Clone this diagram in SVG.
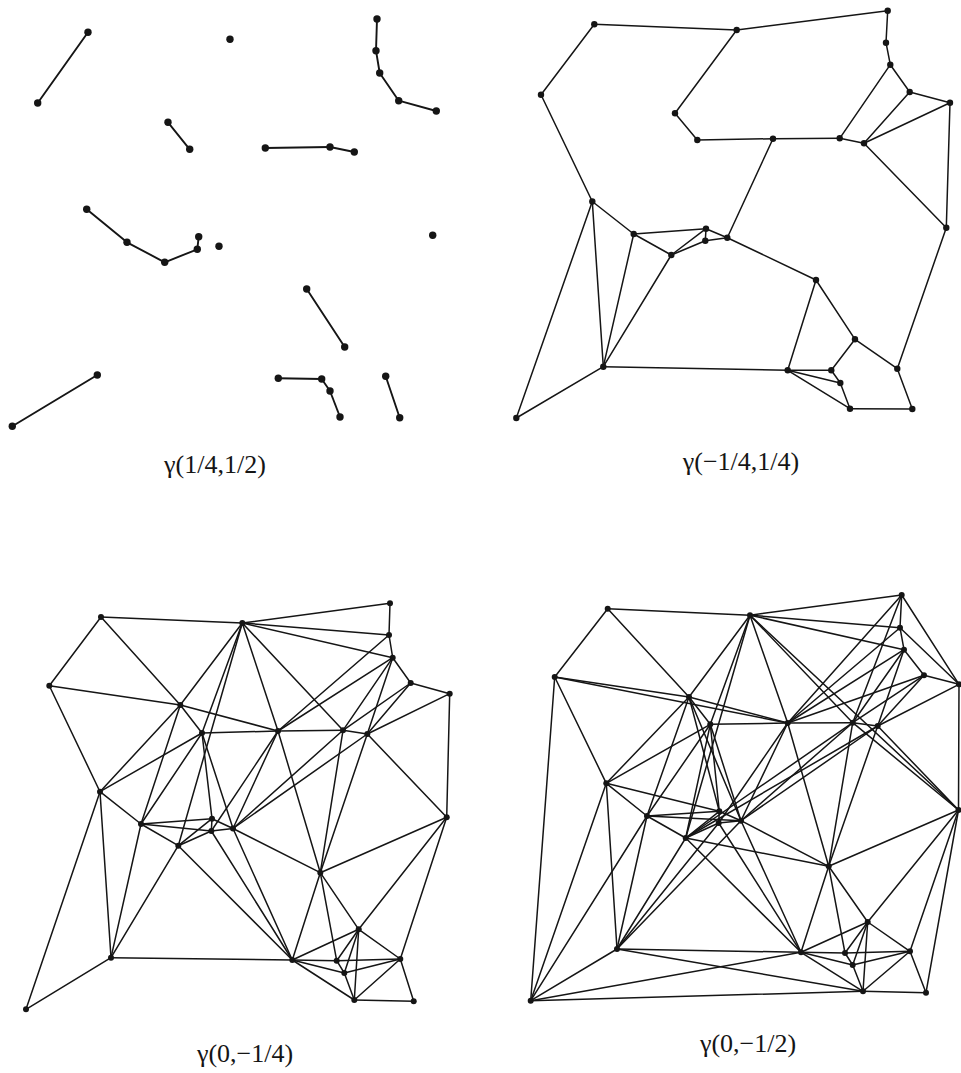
<svg xmlns="http://www.w3.org/2000/svg" width="961" height="1073" viewBox="0 0 961 1073">
<style>
.e line{stroke:#151515;stroke-width:1.5;stroke-linecap:round}
.t line{stroke-width:1.9}
.n circle{fill:#151515}
text{font-family:"Liberation Serif","Times New Roman",serif;font-size:26px;fill:#151515;text-anchor:middle}
</style>
<rect width="961" height="1073" fill="#fff"/>
<!-- Panel 1: gamma(1/4,1/2) -->
<g id="p1-edges" class="e t">
<line x1="88" y1="32.3" x2="37.7" y2="103"/>
<line x1="377" y1="19" x2="376" y2="50.7"/>
<line x1="376" y1="50.7" x2="379.7" y2="73"/>
<line x1="379.7" y1="73" x2="398.7" y2="100.7"/>
<line x1="398.7" y1="100.7" x2="436.3" y2="111"/>
<line x1="168" y1="122.3" x2="189.7" y2="149.3"/>
<line x1="265.3" y1="148" x2="330" y2="147"/>
<line x1="330" y1="147" x2="354.3" y2="152"/>
<line x1="86.7" y1="209.3" x2="127" y2="242.3"/>
<line x1="127" y1="242.3" x2="164.7" y2="262.3"/>
<line x1="164.7" y1="262.3" x2="197.3" y2="249.3"/>
<line x1="197.3" y1="249.3" x2="198.7" y2="236.7"/>
<line x1="306.7" y1="289" x2="344.7" y2="347"/>
<line x1="97.3" y1="375" x2="12.3" y2="426.3"/>
<line x1="278.3" y1="378.3" x2="321.7" y2="379"/>
<line x1="321.7" y1="379" x2="330" y2="391"/>
<line x1="330" y1="391" x2="340" y2="417"/>
<line x1="385.7" y1="376.3" x2="399.7" y2="417.7"/>
</g>
<g class="n">
<g id="p1-A"><circle cx="88" cy="32.3" r="3.7"/></g>
<g id="p1-B"><circle cx="230" cy="39.3" r="3.7"/></g>
<g id="p1-C"><circle cx="377" cy="19" r="3.7"/></g>
<g id="p1-D"><circle cx="376" cy="50.7" r="3.7"/></g>
<g id="p1-E"><circle cx="379.7" cy="73" r="3.7"/></g>
<g id="p1-F"><circle cx="398.7" cy="100.7" r="3.7"/></g>
<g id="p1-G"><circle cx="436.3" cy="111" r="3.7"/></g>
<g id="p1-H"><circle cx="37.7" cy="103" r="3.7"/></g>
<g id="p1-I"><circle cx="168" cy="122.3" r="3.7"/></g>
<g id="p1-J"><circle cx="189.7" cy="149.3" r="3.7"/></g>
<g id="p1-K"><circle cx="265.3" cy="148" r="3.7"/></g>
<g id="p1-L"><circle cx="330" cy="147" r="3.7"/></g>
<g id="p1-M"><circle cx="354.3" cy="152" r="3.7"/></g>
<g id="p1-N"><circle cx="86.7" cy="209.3" r="3.7"/></g>
<g id="p1-O"><circle cx="127" cy="242.3" r="3.7"/></g>
<g id="p1-P"><circle cx="198.7" cy="236.7" r="3.7"/></g>
<g id="p1-Q"><circle cx="197.3" cy="249.3" r="3.7"/></g>
<g id="p1-R"><circle cx="219" cy="246.3" r="3.7"/></g>
<g id="p1-S"><circle cx="164.7" cy="262.3" r="3.7"/></g>
<g id="p1-T"><circle cx="432.7" cy="235.3" r="3.7"/></g>
<g id="p1-U"><circle cx="306.7" cy="289" r="3.7"/></g>
<g id="p1-V"><circle cx="344.7" cy="347" r="3.7"/></g>
<g id="p1-W"><circle cx="385.7" cy="376.3" r="3.7"/></g>
<g id="p1-X"><circle cx="97.3" cy="375" r="3.7"/></g>
<g id="p1-Y"><circle cx="278.3" cy="378.3" r="3.7"/></g>
<g id="p1-Z"><circle cx="321.7" cy="379" r="3.7"/></g>
<g id="p1-a"><circle cx="330" cy="391" r="3.7"/></g>
<g id="p1-b"><circle cx="340" cy="417" r="3.7"/></g>
<g id="p1-c"><circle cx="399.7" cy="417.7" r="3.7"/></g>
<g id="p1-d"><circle cx="12.3" cy="426.3" r="3.7"/></g>
</g>
<text id="label1" x="215" y="473">γ(1/4,1/2)</text>

<!-- Panel 2: gamma(-1/4,1/4) -->
<g id="p2-edges" class="e">
<line x1="594.3" y1="24.3" x2="736.7" y2="30"/>
<line x1="736.7" y1="30" x2="887.7" y2="10.7"/>
<line x1="594.3" y1="24.3" x2="541" y2="94.7"/>
<line x1="887.7" y1="10.7" x2="886" y2="42.7"/>
<line x1="886" y1="42.7" x2="890.3" y2="64.7"/>
<line x1="890.3" y1="64.7" x2="909.7" y2="92"/>
<line x1="909.7" y1="92" x2="950" y2="102.7"/>
<line x1="890.3" y1="64.7" x2="839.7" y2="138.3"/>
<line x1="909.7" y1="92" x2="864" y2="143.3"/>
<line x1="950" y1="102.7" x2="864" y2="143.3"/>
<line x1="950" y1="102.7" x2="946.3" y2="227.7"/>
<line x1="864" y1="143.3" x2="946.3" y2="227.7"/>
<line x1="736.7" y1="30" x2="675" y2="113.3"/>
<line x1="675" y1="113.3" x2="697.3" y2="140"/>
<line x1="697.3" y1="140" x2="773" y2="138.7"/>
<line x1="773" y1="138.7" x2="839.7" y2="138.3"/>
<line x1="839.7" y1="138.3" x2="864" y2="143.3"/>
<line x1="541" y1="94.7" x2="592.3" y2="201.5"/>
<line x1="773" y1="138.7" x2="727.3" y2="237.7"/>
<line x1="592.3" y1="201.5" x2="633.7" y2="234"/>
<line x1="592.3" y1="201.5" x2="603.3" y2="366.7"/>
<line x1="592.3" y1="201.5" x2="516.3" y2="418"/>
<line x1="603.3" y1="366.7" x2="516.3" y2="418"/>
<line x1="633.7" y1="234" x2="603.3" y2="366.7"/>
<line x1="671.3" y1="255" x2="603.3" y2="366.7"/>
<line x1="633.7" y1="234" x2="706" y2="228.7"/>
<line x1="633.7" y1="234" x2="671.3" y2="255"/>
<line x1="671.3" y1="255" x2="706" y2="228.7"/>
<line x1="671.3" y1="255" x2="705.3" y2="240.7"/>
<line x1="706" y1="228.7" x2="705.3" y2="240.7"/>
<line x1="705.3" y1="240.7" x2="727.3" y2="237.7"/>
<line x1="706" y1="228.7" x2="727.3" y2="237.7"/>
<line x1="727.3" y1="237.7" x2="816" y2="280"/>
<line x1="816" y1="280" x2="787.7" y2="370.3"/>
<line x1="816" y1="280" x2="855" y2="339.3"/>
<line x1="855" y1="339.3" x2="831.3" y2="370.3"/>
<line x1="855" y1="339.3" x2="897.3" y2="368.7"/>
<line x1="946.3" y1="227.7" x2="897.3" y2="368.7"/>
<line x1="897.3" y1="368.7" x2="912.3" y2="409"/>
<line x1="603.3" y1="366.7" x2="787.7" y2="370.3"/>
<line x1="787.7" y1="370.3" x2="831.3" y2="370.3"/>
<line x1="787.7" y1="370.3" x2="840.3" y2="383"/>
<line x1="787.7" y1="370.3" x2="850" y2="408.7"/>
<line x1="831.3" y1="370.3" x2="840.3" y2="383"/>
<line x1="840.3" y1="383" x2="850" y2="408.7"/>
<line x1="850" y1="408.7" x2="912.3" y2="409"/>
</g>
<g class="n">
<g id="p2-A"><circle cx="594.3" cy="24.3" r="3.2"/></g>
<g id="p2-B"><circle cx="736.7" cy="30" r="3.2"/></g>
<g id="p2-C"><circle cx="887.7" cy="10.7" r="3.2"/></g>
<g id="p2-D"><circle cx="886" cy="42.7" r="3.2"/></g>
<g id="p2-E"><circle cx="890.3" cy="64.7" r="3.2"/></g>
<g id="p2-F"><circle cx="909.7" cy="92" r="3.2"/></g>
<g id="p2-G"><circle cx="950" cy="102.7" r="3.2"/></g>
<g id="p2-H"><circle cx="541" cy="94.7" r="3.2"/></g>
<g id="p2-I"><circle cx="675" cy="113.3" r="3.2"/></g>
<g id="p2-J"><circle cx="697.3" cy="140" r="3.2"/></g>
<g id="p2-K"><circle cx="773" cy="138.7" r="3.2"/></g>
<g id="p2-L"><circle cx="839.7" cy="138.3" r="3.2"/></g>
<g id="p2-M"><circle cx="864" cy="143.3" r="3.2"/></g>
<g id="p2-N"><circle cx="592.3" cy="201.5" r="3.2"/></g>
<g id="p2-O"><circle cx="633.7" cy="234" r="3.2"/></g>
<g id="p2-P"><circle cx="706" cy="228.7" r="3.2"/></g>
<g id="p2-Q"><circle cx="705.3" cy="240.7" r="3.2"/></g>
<g id="p2-R"><circle cx="727.3" cy="237.7" r="3.2"/></g>
<g id="p2-S"><circle cx="671.3" cy="255" r="3.2"/></g>
<g id="p2-T"><circle cx="946.3" cy="227.7" r="3.2"/></g>
<g id="p2-U"><circle cx="816" cy="280" r="3.2"/></g>
<g id="p2-V"><circle cx="855" cy="339.3" r="3.2"/></g>
<g id="p2-W"><circle cx="897.3" cy="368.7" r="3.2"/></g>
<g id="p2-X"><circle cx="603.3" cy="366.7" r="3.2"/></g>
<g id="p2-Y"><circle cx="787.7" cy="370.3" r="3.2"/></g>
<g id="p2-Z"><circle cx="831.3" cy="370.3" r="3.2"/></g>
<g id="p2-a"><circle cx="840.3" cy="383" r="3.2"/></g>
<g id="p2-b"><circle cx="850" cy="408.7" r="3.2"/></g>
<g id="p2-c"><circle cx="912.3" cy="409" r="3.2"/></g>
<g id="p2-d"><circle cx="516.3" cy="418" r="3.2"/></g>
</g>
<text id="label2" x="741" y="470">γ(−1/4,1/4)</text>

<!-- Panel 3: gamma(0,-1/4) -->
<g id="p3-edges" class="e">
<line x1="101" y1="617" x2="242.3" y2="623"/>
<line x1="242.3" y1="623" x2="390" y2="603.3"/>
<line x1="390" y1="603.3" x2="389" y2="635"/>
<line x1="389" y1="635" x2="392.7" y2="657.7"/>
<line x1="392.7" y1="657.7" x2="410.7" y2="683"/>
<line x1="410.7" y1="683" x2="449.7" y2="693.7"/>
<line x1="449.7" y1="693.7" x2="446.7" y2="817.3"/>
<line x1="446.7" y1="817.3" x2="400.3" y2="959"/>
<line x1="400.3" y1="959" x2="413.7" y2="1001.3"/>
<line x1="354.3" y1="1000" x2="413.7" y2="1001.3"/>
<line x1="292.3" y1="960" x2="354.3" y2="1000"/>
<line x1="111" y1="957.7" x2="292.3" y2="960"/>
<line x1="111" y1="957.7" x2="26" y2="1009.3"/>
<line x1="100" y1="791.7" x2="26" y2="1009.3"/>
<line x1="49.3" y1="685.7" x2="100" y2="791.7"/>
<line x1="101" y1="617" x2="49.3" y2="685.7"/>
<line x1="101" y1="617" x2="180.3" y2="705"/>
<line x1="49.3" y1="685.7" x2="180.3" y2="705"/>
<line x1="242.3" y1="623" x2="180.3" y2="705"/>
<line x1="242.3" y1="623" x2="202" y2="733"/>
<line x1="242.3" y1="623" x2="278" y2="731"/>
<line x1="242.3" y1="623" x2="343" y2="730.3"/>
<line x1="242.3" y1="623" x2="389" y2="635"/>
<line x1="242.3" y1="623" x2="392.7" y2="657.7"/>
<line x1="180.3" y1="705" x2="100" y2="791.7"/>
<line x1="180.3" y1="705" x2="202" y2="733"/>
<line x1="180.3" y1="705" x2="278" y2="731"/>
<line x1="180.3" y1="705" x2="141" y2="824"/>
<line x1="202" y1="733" x2="100" y2="791.7"/>
<line x1="202" y1="733" x2="141" y2="824"/>
<line x1="202" y1="733" x2="278" y2="731"/>
<line x1="278" y1="731" x2="343" y2="730.3"/>
<line x1="343" y1="730.3" x2="367.3" y2="734"/>
<line x1="389" y1="635" x2="278" y2="731"/>
<line x1="392.7" y1="657.7" x2="278" y2="731"/>
<line x1="392.7" y1="657.7" x2="343" y2="730.3"/>
<line x1="392.7" y1="657.7" x2="367.3" y2="734"/>
<line x1="410.7" y1="683" x2="343" y2="730.3"/>
<line x1="410.7" y1="683" x2="367.3" y2="734"/>
<line x1="449.7" y1="693.7" x2="367.3" y2="734"/>
<line x1="367.3" y1="734" x2="446.7" y2="817.3"/>
<line x1="278" y1="731" x2="320.3" y2="872.7"/>
<line x1="343" y1="730.3" x2="320.3" y2="872.7"/>
<line x1="367.3" y1="734" x2="320.3" y2="872.7"/>
<line x1="343" y1="730.3" x2="233" y2="828.5"/>
<line x1="367.3" y1="734" x2="233" y2="828.5"/>
<line x1="278" y1="731" x2="233" y2="828.5"/>
<line x1="100" y1="791.7" x2="141" y2="824"/>
<line x1="100" y1="791.7" x2="111" y2="957.7"/>
<line x1="141" y1="824" x2="111" y2="957.7"/>
<line x1="141" y1="824" x2="212" y2="818.7"/>
<line x1="141" y1="824" x2="211.3" y2="831"/>
<line x1="141" y1="824" x2="178.3" y2="845.7"/>
<line x1="178.3" y1="845.7" x2="212" y2="818.7"/>
<line x1="178.3" y1="845.7" x2="211.3" y2="831"/>
<line x1="178.3" y1="845.7" x2="111" y2="957.7"/>
<line x1="178.3" y1="845.7" x2="292.3" y2="960"/>
<line x1="212" y1="818.7" x2="211.3" y2="831"/>
<line x1="212" y1="818.7" x2="233" y2="828.5"/>
<line x1="211.3" y1="831" x2="233" y2="828.5"/>
<line x1="211.3" y1="831" x2="292.3" y2="960"/>
<line x1="233" y1="828.5" x2="320.3" y2="872.7"/>
<line x1="233" y1="828.5" x2="292.3" y2="960"/>
<line x1="320.3" y1="872.7" x2="446.7" y2="817.3"/>
<line x1="320.3" y1="872.7" x2="292.3" y2="960"/>
<line x1="320.3" y1="872.7" x2="336.7" y2="960.7"/>
<line x1="320.3" y1="872.7" x2="358.7" y2="929.3"/>
<line x1="446.7" y1="817.3" x2="358.7" y2="929.3"/>
<line x1="358.7" y1="929.3" x2="292.3" y2="960"/>
<line x1="358.7" y1="929.3" x2="336.7" y2="960.7"/>
<line x1="358.7" y1="929.3" x2="344.3" y2="973"/>
<line x1="358.7" y1="929.3" x2="354.3" y2="1000"/>
<line x1="358.7" y1="929.3" x2="400.3" y2="959"/>
<line x1="292.3" y1="960" x2="336.7" y2="960.7"/>
<line x1="292.3" y1="960" x2="344.3" y2="973"/>
<line x1="336.7" y1="960.7" x2="400.3" y2="959"/>
<line x1="344.3" y1="973" x2="400.3" y2="959"/>
<line x1="344.3" y1="973" x2="354.3" y2="1000"/>
<line x1="354.3" y1="1000" x2="400.3" y2="959"/>
<line x1="336.7" y1="960.7" x2="344.3" y2="973"/>
<line x1="202" y1="733" x2="212" y2="818.7"/>
<line x1="202" y1="733" x2="233" y2="828.5"/>
<line x1="278" y1="731" x2="211.3" y2="831"/>
<line x1="242.3" y1="623" x2="178.3" y2="845.7"/>
</g>
<g class="n">
<g id="p3-A"><circle cx="101" cy="617" r="3"/></g>
<g id="p3-B"><circle cx="242.3" cy="623" r="3"/></g>
<g id="p3-C"><circle cx="390" cy="603.3" r="3"/></g>
<g id="p3-D"><circle cx="389" cy="635" r="3"/></g>
<g id="p3-E"><circle cx="392.7" cy="657.7" r="3"/></g>
<g id="p3-F"><circle cx="410.7" cy="683" r="3"/></g>
<g id="p3-G"><circle cx="449.7" cy="693.7" r="3"/></g>
<g id="p3-H"><circle cx="49.3" cy="685.7" r="3"/></g>
<g id="p3-I"><circle cx="180.3" cy="705" r="3"/></g>
<g id="p3-J"><circle cx="202" cy="733" r="3"/></g>
<g id="p3-K"><circle cx="278" cy="731" r="3"/></g>
<g id="p3-L"><circle cx="343" cy="730.3" r="3"/></g>
<g id="p3-M"><circle cx="367.3" cy="734" r="3"/></g>
<g id="p3-N"><circle cx="100" cy="791.7" r="3"/></g>
<g id="p3-O"><circle cx="141" cy="824" r="3"/></g>
<g id="p3-P"><circle cx="212" cy="818.7" r="3"/></g>
<g id="p3-Q"><circle cx="211.3" cy="831" r="3"/></g>
<g id="p3-R"><circle cx="233" cy="828.5" r="3"/></g>
<g id="p3-S"><circle cx="178.3" cy="845.7" r="3"/></g>
<g id="p3-T"><circle cx="446.7" cy="817.3" r="3"/></g>
<g id="p3-U"><circle cx="320.3" cy="872.7" r="3"/></g>
<g id="p3-V"><circle cx="358.7" cy="929.3" r="3"/></g>
<g id="p3-W"><circle cx="400.3" cy="959" r="3"/></g>
<g id="p3-X"><circle cx="111" cy="957.7" r="3"/></g>
<g id="p3-Y"><circle cx="292.3" cy="960" r="3"/></g>
<g id="p3-Z"><circle cx="336.7" cy="960.7" r="3"/></g>
<g id="p3-a"><circle cx="344.3" cy="973" r="3"/></g>
<g id="p3-b"><circle cx="354.3" cy="1000" r="3"/></g>
<g id="p3-c"><circle cx="413.7" cy="1001.3" r="3"/></g>
<g id="p3-d"><circle cx="26" cy="1009.3" r="3"/></g>
</g>
<text id="label3" x="245" y="1062">γ(0,−1/4)</text>

<!-- Panel 4: gamma(0,-1/2) -->
<g id="p4-edges" class="e">
<line x1="607.7" y1="608.7" x2="750" y2="615.2"/>
<line x1="750" y1="615.2" x2="901.7" y2="595"/>
<line x1="901.7" y1="595" x2="959" y2="684.3"/>
<line x1="959" y1="684.3" x2="958.5" y2="810"/>
<line x1="958.5" y1="810" x2="926" y2="992.7"/>
<line x1="863" y1="991.3" x2="926" y2="992.7"/>
<line x1="530.7" y1="1000.7" x2="863" y2="991.3"/>
<line x1="554.7" y1="677" x2="530.7" y2="1000.7"/>
<line x1="607.7" y1="608.7" x2="554.7" y2="677"/>
<line x1="901.7" y1="595" x2="900" y2="627.7"/>
<line x1="900" y1="627.7" x2="904" y2="649.7"/>
<line x1="904" y1="649.7" x2="924" y2="675.3"/>
<line x1="924" y1="675.3" x2="959" y2="684.3"/>
<line x1="900" y1="627.7" x2="959" y2="684.3"/>
<line x1="607.7" y1="608.7" x2="689" y2="697"/>
<line x1="554.7" y1="677" x2="689" y2="697"/>
<line x1="554.7" y1="677" x2="787.7" y2="723"/>
<line x1="554.7" y1="677" x2="606.3" y2="783.3"/>
<line x1="750" y1="615.2" x2="689" y2="697"/>
<line x1="750" y1="615.2" x2="710.3" y2="724.3"/>
<line x1="689" y1="697" x2="606.3" y2="783.3"/>
<line x1="710.3" y1="724.3" x2="606.3" y2="783.3"/>
<line x1="689" y1="697" x2="710.3" y2="724.3"/>
<line x1="689" y1="697" x2="787.7" y2="723"/>
<line x1="710.3" y1="724.3" x2="787.7" y2="723"/>
<line x1="606.3" y1="783.3" x2="719.3" y2="811.3"/>
<line x1="606.3" y1="783.3" x2="617" y2="949"/>
<line x1="606.3" y1="783.3" x2="647" y2="816"/>
<line x1="606.3" y1="783.3" x2="530.7" y2="1000.7"/>
<line x1="617" y1="949" x2="530.7" y2="1000.7"/>
<line x1="689" y1="697" x2="647" y2="816"/>
<line x1="689" y1="697" x2="719.3" y2="811.3"/>
<line x1="689" y1="697" x2="741" y2="820.7"/>
<line x1="710.3" y1="724.3" x2="647" y2="816"/>
<line x1="710.3" y1="724.3" x2="685.7" y2="838"/>
<line x1="710.3" y1="724.3" x2="719.3" y2="811.3"/>
<line x1="710.3" y1="724.3" x2="741" y2="820.7"/>
<line x1="750" y1="615.2" x2="787.7" y2="723"/>
<line x1="750" y1="615.2" x2="852.7" y2="722.7"/>
<line x1="750" y1="615.2" x2="900" y2="627.7"/>
<line x1="750" y1="615.2" x2="904" y2="649.7"/>
<line x1="750" y1="615.2" x2="958.5" y2="810"/>
<line x1="750" y1="615.2" x2="685.7" y2="838"/>
<line x1="901.7" y1="595" x2="787.7" y2="723"/>
<line x1="900" y1="627.7" x2="787.7" y2="723"/>
<line x1="904" y1="649.7" x2="787.7" y2="723"/>
<line x1="904" y1="649.7" x2="852.7" y2="722.7"/>
<line x1="904" y1="649.7" x2="877.7" y2="726"/>
<line x1="924" y1="675.3" x2="787.7" y2="723"/>
<line x1="924" y1="675.3" x2="852.7" y2="722.7"/>
<line x1="924" y1="675.3" x2="877.7" y2="726"/>
<line x1="959" y1="684.3" x2="877.7" y2="726"/>
<line x1="787.7" y1="723" x2="852.7" y2="722.7"/>
<line x1="852.7" y1="722.7" x2="877.7" y2="726"/>
<line x1="877.7" y1="726" x2="958.5" y2="810"/>
<line x1="787.7" y1="723" x2="828.7" y2="866.3"/>
<line x1="852.7" y1="722.7" x2="828.7" y2="866.3"/>
<line x1="877.7" y1="726" x2="828.7" y2="866.3"/>
<line x1="647" y1="816" x2="530.7" y2="1000.7"/>
<line x1="647" y1="816" x2="617" y2="949"/>
<line x1="685.7" y1="838" x2="617" y2="949"/>
<line x1="617" y1="949" x2="718.7" y2="823"/>
<line x1="617" y1="949" x2="741" y2="820.7"/>
<line x1="617" y1="949" x2="801" y2="952.3"/>
<line x1="617" y1="949" x2="863" y2="991.3"/>
<line x1="530.7" y1="1000.7" x2="801" y2="952.3"/>
<line x1="647" y1="816" x2="719.3" y2="811.3"/>
<line x1="647" y1="816" x2="741" y2="820.7"/>
<line x1="647" y1="816" x2="685.7" y2="838"/>
<line x1="685.7" y1="838" x2="719.3" y2="811.3"/>
<line x1="685.7" y1="838" x2="718.7" y2="823"/>
<line x1="719.3" y1="811.3" x2="718.7" y2="823"/>
<line x1="718.7" y1="823" x2="741" y2="820.7"/>
<line x1="719.3" y1="811.3" x2="741" y2="820.7"/>
<line x1="685.7" y1="838" x2="801" y2="952.3"/>
<line x1="685.7" y1="838" x2="828.7" y2="866.3"/>
<line x1="741" y1="820.7" x2="828.7" y2="866.3"/>
<line x1="741" y1="820.7" x2="801" y2="952.3"/>
<line x1="718.7" y1="823" x2="801" y2="952.3"/>
<line x1="958.5" y1="810" x2="828.7" y2="866.3"/>
<line x1="958.5" y1="810" x2="867.7" y2="922"/>
<line x1="958.5" y1="810" x2="910" y2="951.3"/>
<line x1="910" y1="951.3" x2="926" y2="992.7"/>
<line x1="867.7" y1="922" x2="910" y2="951.3"/>
<line x1="828.7" y1="866.3" x2="801" y2="952.3"/>
<line x1="828.7" y1="866.3" x2="845" y2="953"/>
<line x1="828.7" y1="866.3" x2="867.7" y2="922"/>
<line x1="801" y1="952.3" x2="867.7" y2="922"/>
<line x1="801" y1="952.3" x2="845" y2="953"/>
<line x1="801" y1="952.3" x2="863" y2="991.3"/>
<line x1="801" y1="952.3" x2="852.7" y2="965"/>
<line x1="867.7" y1="922" x2="852.7" y2="965"/>
<line x1="867.7" y1="922" x2="863" y2="991.3"/>
<line x1="867.7" y1="922" x2="845" y2="953"/>
<line x1="845" y1="953" x2="910" y2="951.3"/>
<line x1="852.7" y1="965" x2="910" y2="951.3"/>
<line x1="863" y1="991.3" x2="910" y2="951.3"/>
<line x1="845" y1="953" x2="852.7" y2="965"/>
<line x1="852.7" y1="965" x2="863" y2="991.3"/>
<line x1="787.7" y1="723" x2="741" y2="820.7"/>
<line x1="852.7" y1="722.7" x2="741" y2="820.7"/>
<line x1="877.7" y1="726" x2="741" y2="820.7"/>
<line x1="787.7" y1="723" x2="718.7" y2="823"/>
<line x1="852.7" y1="722.7" x2="685.7" y2="838"/>
<line x1="877.7" y1="726" x2="685.7" y2="838"/>
<line x1="852.7" y1="722.7" x2="958.5" y2="810"/>
<line x1="901.7" y1="595" x2="852.7" y2="722.7"/>
</g>
<g class="n">
<g id="p4-A"><circle cx="607.7" cy="608.7" r="3"/></g>
<g id="p4-B"><circle cx="750" cy="615.2" r="3"/></g>
<g id="p4-C"><circle cx="901.7" cy="595" r="3"/></g>
<g id="p4-D"><circle cx="900" cy="627.7" r="3"/></g>
<g id="p4-E"><circle cx="904" cy="649.7" r="3"/></g>
<g id="p4-F"><circle cx="924" cy="675.3" r="3"/></g>
<g id="p4-G"><circle cx="959" cy="684.3" r="3"/></g>
<g id="p4-H"><circle cx="554.7" cy="677" r="3"/></g>
<g id="p4-I"><circle cx="689" cy="697" r="3"/></g>
<g id="p4-J"><circle cx="710.3" cy="724.3" r="3"/></g>
<g id="p4-K"><circle cx="787.7" cy="723" r="3"/></g>
<g id="p4-L"><circle cx="852.7" cy="722.7" r="3"/></g>
<g id="p4-M"><circle cx="877.7" cy="726" r="3"/></g>
<g id="p4-N"><circle cx="606.3" cy="783.3" r="3"/></g>
<g id="p4-O"><circle cx="647" cy="816" r="3"/></g>
<g id="p4-P"><circle cx="719.3" cy="811.3" r="3"/></g>
<g id="p4-Q"><circle cx="718.7" cy="823" r="3"/></g>
<g id="p4-R"><circle cx="741" cy="820.7" r="3"/></g>
<g id="p4-S"><circle cx="685.7" cy="838" r="3"/></g>
<g id="p4-T"><circle cx="958.5" cy="810" r="3"/></g>
<g id="p4-U"><circle cx="828.7" cy="866.3" r="3"/></g>
<g id="p4-V"><circle cx="867.7" cy="922" r="3"/></g>
<g id="p4-W"><circle cx="910" cy="951.3" r="3"/></g>
<g id="p4-X"><circle cx="617" cy="949" r="3"/></g>
<g id="p4-Y"><circle cx="801" cy="952.3" r="3"/></g>
<g id="p4-Z"><circle cx="845" cy="953" r="3"/></g>
<g id="p4-a"><circle cx="852.7" cy="965" r="3"/></g>
<g id="p4-b"><circle cx="863" cy="991.3" r="3"/></g>
<g id="p4-c"><circle cx="926" cy="992.7" r="3"/></g>
<g id="p4-d"><circle cx="530.7" cy="1000.7" r="3"/></g>
</g>
<text id="label4" x="748" y="1052">γ(0,−1/2)</text>
</svg>
